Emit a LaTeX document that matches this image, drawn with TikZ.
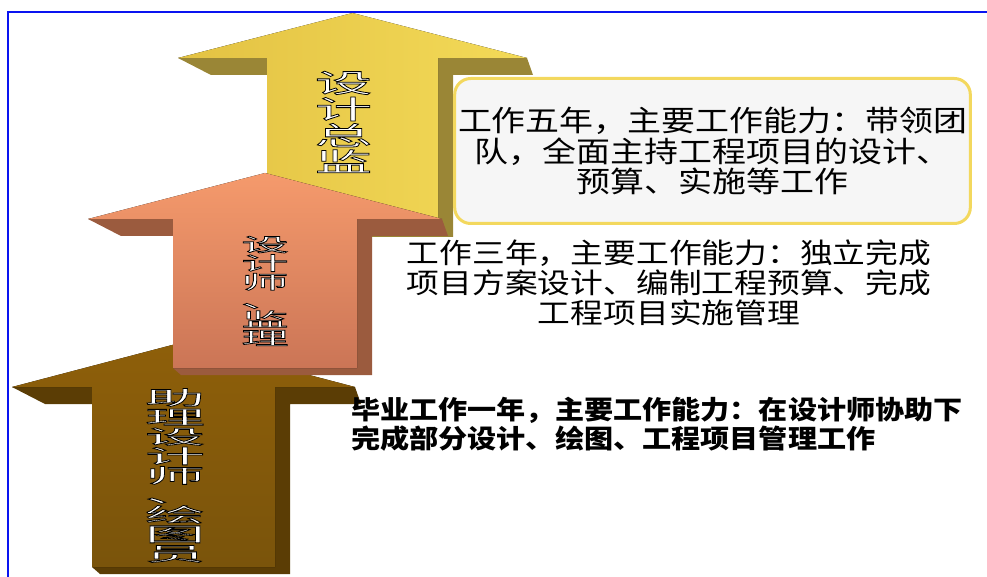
\documentclass[tikz,border=0pt]{standalone}
\usepackage{fontspec}
\usepackage{tikz}
\usetikzlibrary{positioning}

\newfontfamily\cjkthin[FakeStretch=1.17]{Noto Sans CJK SC}
\newfontfamily\cjkbold[FakeStretch=1.12]{Noto Sans CJK SC}
\newfontfamily\ylblfont[FakeStretch=2.2]{Noto Sans CJK SC}
\newfontfamily\olblfont[FakeStretch=2.55]{Noto Sans CJK SC}
\newfontfamily\blblfont[FakeStretch=3.1]{Noto Sans CJK SC}

\definecolor{frameblue}{HTML}{0A14F0}
\definecolor{yellowA}{HTML}{E3C243}
\definecolor{yellowB}{HTML}{F3DA58}
\definecolor{yellowside}{HTML}{9A8636}
\definecolor{orangeA}{HTML}{F59A6C}
\definecolor{orangeB}{HTML}{CB7556}
\definecolor{orangeside}{HTML}{9B5B3E}
\definecolor{brownA}{HTML}{8E5F0A}
\definecolor{brownB}{HTML}{7A540B}
\definecolor{brownside}{HTML}{5B3D05}
\definecolor{boxfill}{HTML}{F6F6F6}
\definecolor{boxedge}{HTML}{F3D85E}

% white letters with a dark edge
\newcommand{\edged}[1]{\special{pdf:literal direct 2 Tr 0.8 w 0 0 0 RG}#1\special{pdf:literal direct 0 Tr 0.4 w}}

% cx, shaft half width, head half width, tip y, head y, shaft end y, front style, side colour
\newcommand{\careerarrow}[8]{%
  \fill[#8] ({#1-#3},#5) -- ({#1-#2},#5) -- ({#1-#2},#5+17) -- ({#1-#3+33},#5+17) -- cycle;
  \fill[#8] ({#1+#2},#5) -- ({#1+#3},#5) -- ({#1+#3+6},#5+17) -- ({#1+#2+15},#5+17)
     -- ({#1+#2+15},#6+7) -- ({#1-#2+8},#6+7) -- ({#1-#2},#6) -- ({#1+#2},#6) -- cycle;
  \fill[#7] (#1,#4) -- ({#1+#3},#5) -- ({#1+#2},#5) -- ({#1+#2},#6)
     -- ({#1-#2},#6) -- ({#1-#2},#5) -- ({#1-#3},#5) -- cycle;
}

\begin{document}
\begin{tikzpicture}[x=1pt,y=-1pt]
  \tikzset{frameline/.style={draw=frameblue, line width=2pt}}
  \tikzset{yfront/.style={left color=yellowA, right color=yellowB}}
  \tikzset{ofront/.style={top color=orangeA, bottom color=orangeB}}
  \tikzset{bfront/.style={top color=brownA, bottom color=brownB}}
  \tikzset{lbl/.style={inner sep=0pt, align=center, text=white}}
  \tikzset{ylabel/.style={lbl, font={\ylblfont\fontsize{26}{26.3}\selectfont}}}
  \tikzset{olabel/.style={lbl, font={\olblfont\fontsize{18.6}{18.7}\selectfont}}}
  \tikzset{blabel/.style={lbl, font={\blblfont\fontsize{19.4}{19.5}\selectfont}}}
  \tikzset{infobox/.style={draw=boxedge, fill=boxfill, line width=3pt, rounded corners=16pt,
      minimum width=514pt, minimum height=145pt, align=center,
      font={\cjkthin\fontsize{29}{30.5}\selectfont}}}
  \tikzset{plaintext/.style={inner sep=0pt, text=black}}

  \useasboundingbox (0,0) rectangle (987,577);
  \draw[frameline] (8,577) -- (8,12.5) -- (987,12.5);

  \careerarrow{352.5}{85.5}{174.5}{13}{58}{230}{yfront}{yellowside}
  \careerarrow{183.5}{91.5}{171.5}{342}{387}{567}{bfront}{brownside}
  \careerarrow{265}{92}{177}{173}{219}{368}{ofront}{orangeside}

  \node[infobox] (fiveyears) at (712.5,151) {工作五年，主要工作能力：带领团\\队，全面主持工程项目的设计、\\预算、实施等工作};
  \node[plaintext, align=center, font={\cjkthin\fontsize{28}{30}\selectfont}] (threeyears) at (669,283)
    {工作三年，主要工作能力：独立完成\\项目方案设计、编制工程预算、完成\\工程项目实施管理};
  \node[plaintext, anchor=west, align=left, font={\cjkbold\bfseries\fontsize{26}{28.5}\selectfont}] (oneyear) at (351,424)
    {毕业工作一年，主要工作能力：在设计师协助下\\完成部分设计、绘图、工程项目管理工作};

  % labels on the arrows
  \node[ylabel] (chieflabel) at (343.5,122) {\edged{设\\计\\总\\监}};
  \node[olabel] (designlabel) at (265,291) {\edged{设\\计\\师\\、\\监\\理}};
  \node[blabel] (assistlabel) at (175,475.5) {\edged{助\\理\\设\\计\\师\\、\\绘\\图\\员}};
\end{tikzpicture}
\end{document}
